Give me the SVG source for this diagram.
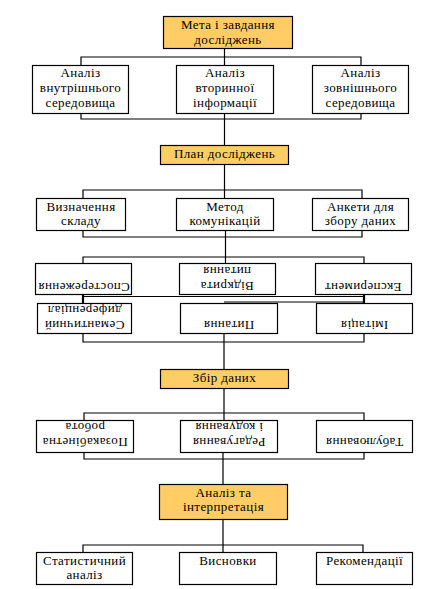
<svg xmlns="http://www.w3.org/2000/svg" width="441" height="589" viewBox="0 0 441 589">
<style>
.box{fill:#fff;stroke:#000;stroke-width:1.2}
.hl{fill:#FFCC66;stroke:#000;stroke-width:1.2}
.c{stroke:#000;stroke-width:1.2;fill:none}
.t{stroke:#000;stroke-width:2.2;fill:none}
text{font-family:"Liberation Serif","Times New Roman",serif;font-size:13px;letter-spacing:0.4px;text-anchor:middle;fill:#000}
</style>
<rect width="441" height="589" fill="#fff"/>
<g id="connectors">
<path class="c" d="M224.5,48V65M81,65V57H361V65M81,113V119H361V113M224.5,113V145"/>
<path class="c" d="M224.5,164V198M83,198V190H362V198M83,230V237H362V230M225.5,230V263M83,263V257H364V263"/>
<path class="t" d="M83,294V303M364,294V303"/>
<path class="c" d="M83,296.5H364M224,302H364"/>
<path class="c" d="M83,333V342H364V333M224,333V369"/>
<path class="c" d="M224,388V420M84,420V413H364V420M84,452V459H364V452M223,452V484"/>
<path class="c" d="M223,519V552M83,552V545H363V552"/>
</g>
<g id="n-meta"><rect class="hl" x="163.5" y="16.5" width="129" height="32"/><text x="228" y="29">Мета і завдання</text><text x="228" y="44">досліджень</text></g>
<g id="n-vnutr"><rect class="box" x="32.5" y="65.5" width="96" height="48"/><text x="80.5" y="77">Аналіз</text><text x="80.5" y="92">внутрішнього</text><text x="80.5" y="107">середовища</text></g>
<g id="n-vtor"><rect class="box" x="176.5" y="65.5" width="97" height="48"/><text x="225" y="77">Аналіз</text><text x="225" y="92">вторинної</text><text x="225" y="107">інформації</text></g>
<g id="n-zovn"><rect class="box" x="312.5" y="65.5" width="96" height="48"/><text x="360.5" y="77">Аналіз</text><text x="360.5" y="92">зовнішнього</text><text x="360.5" y="107">середовища</text></g>
<g id="n-plan"><rect class="hl" x="160.5" y="145.5" width="128" height="19"/><text x="224.5" y="158">План досліджень</text></g>
<g id="n-vyzn"><rect class="box" x="36.5" y="198.5" width="89" height="32"/><text x="81" y="211">Визначення</text><text x="81" y="225">складу</text></g>
<g id="n-metod"><rect class="box" x="176.5" y="198.5" width="97" height="32"/><text x="225" y="211">Метод</text><text x="225" y="225">комунікацій</text></g>
<g id="n-anket"><rect class="box" x="312.5" y="198.5" width="96" height="32"/><text x="360.5" y="211">Анкети для</text><text x="360.5" y="225">збору даних</text></g>
<g id="n-spost"><rect class="box" x="35.5" y="263.5" width="96" height="31"/><text transform="translate(84,283) rotate(180)">Спостереження</text></g>
<g id="n-vidkr"><rect class="box" x="179.5" y="263.5" width="96" height="31"/><text transform="translate(227,282) rotate(180)">Відкрита</text><text transform="translate(227,267) rotate(180)">питання</text></g>
<g id="n-eksp"><rect class="box" x="315.5" y="263.5" width="96" height="31"/><text transform="translate(363,283) rotate(180)">Експеримент</text></g>
<g id="n-sem"><rect class="box" x="37.5" y="303.5" width="94" height="30"/><text transform="translate(84.5,321) rotate(180)">Семантичний</text><text transform="translate(84.5,306) rotate(180)">диференціал</text></g>
<g id="n-pyt"><rect class="box" x="180.5" y="303.5" width="97" height="30"/><text transform="translate(229,321) rotate(180)">Питання</text></g>
<g id="n-imit"><rect class="box" x="316.5" y="303.5" width="96" height="30"/><text transform="translate(364.5,321) rotate(180)">Імітація</text></g>
<g id="n-zbir"><rect class="hl" x="160.5" y="369.5" width="128" height="19"/><text x="224.5" y="382">Збір даних</text></g>
<g id="n-pozak"><rect class="box" x="36.5" y="420.5" width="97" height="32"/><text transform="translate(85,438) rotate(180)">Позакабінетна</text><text transform="translate(85,423) rotate(180)">робота</text></g>
<g id="n-red"><rect class="box" x="180.5" y="420.5" width="97" height="32"/><text transform="translate(229,438) rotate(180)">Редагування</text><text transform="translate(229,423) rotate(180)">і кодування</text></g>
<g id="n-tab"><rect class="box" x="316.5" y="420.5" width="96" height="32"/><text transform="translate(364.5,438) rotate(180)">Табулювання</text></g>
<g id="n-analiz"><rect class="hl" x="159.5" y="484.5" width="128" height="35"/><text x="223.5" y="497">Аналіз та</text><text x="223.5" y="511">інтерпретація</text></g>
<g id="n-stat"><rect class="box" x="36.5" y="552.5" width="96" height="32"/><text x="84.5" y="565">Статистичний</text><text x="84.5" y="579">аналіз</text></g>
<g id="n-vysn"><rect class="box" x="179.5" y="552.5" width="97" height="32"/><text x="228" y="565">Висновки</text></g>
<g id="n-rek"><rect class="box" x="316.5" y="552.5" width="96" height="32"/><text x="364.5" y="565">Рекомендації</text></g>
</svg>
